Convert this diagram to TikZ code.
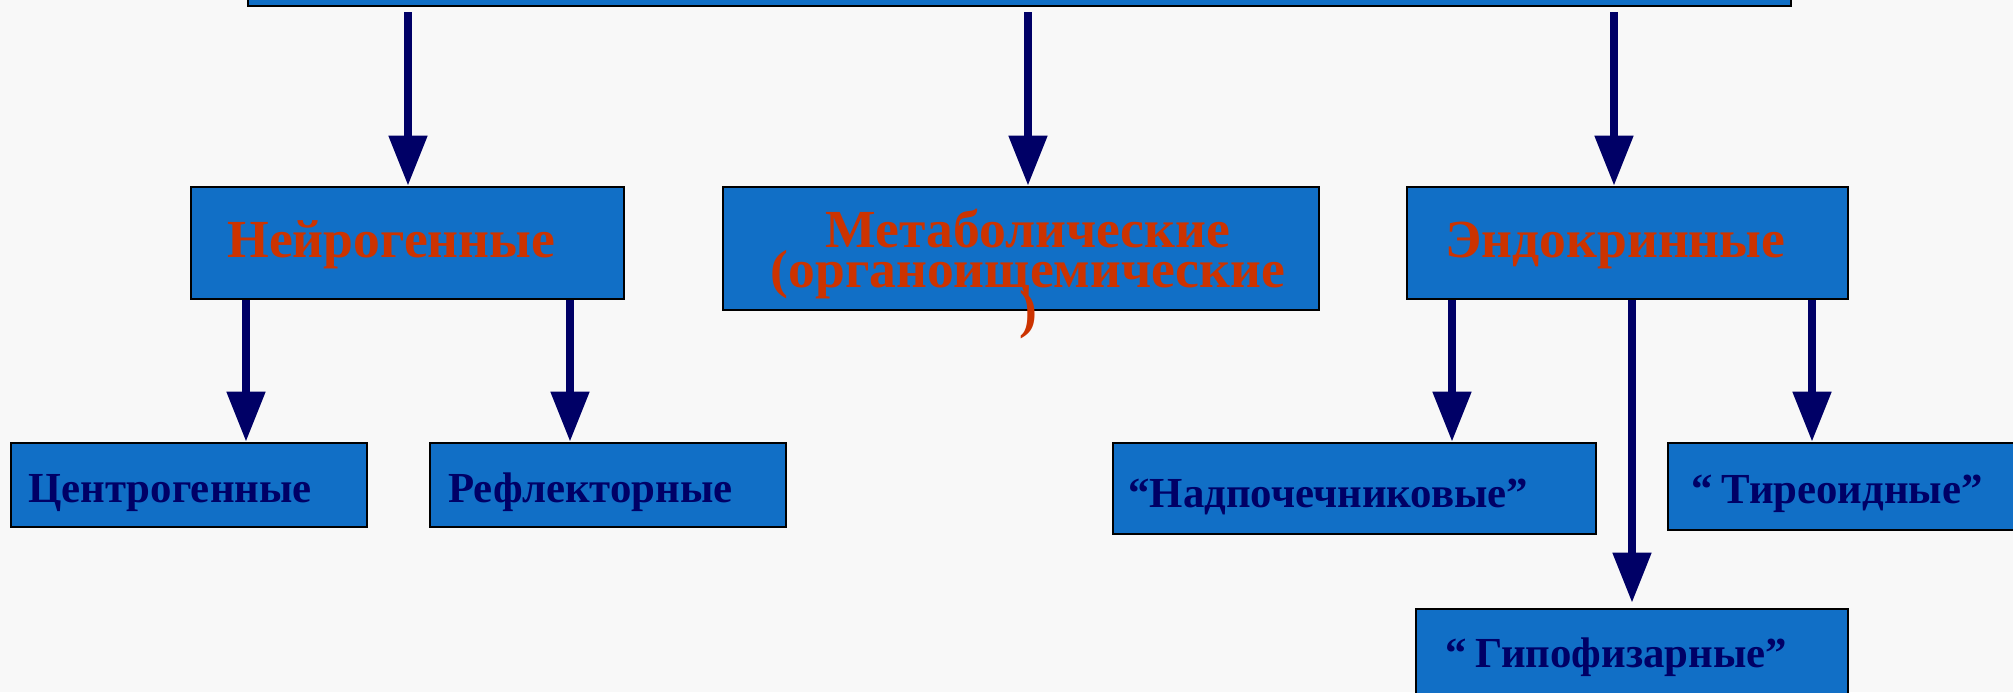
\documentclass[tikz,border=0pt]{standalone}
\usepackage{fontspec}
\setmainfont{Liberation Serif}
\usetikzlibrary{arrows.meta}
\definecolor{bg}{RGB}{248,248,248}
\definecolor{boxblue}{RGB}{17,111,198}
\definecolor{redtxt}{RGB}{204,51,0}
\definecolor{navy}{RGB}{0,0,102}
\tikzset{
  box/.style={draw=black, line width=1.3pt, fill=boxblue, inner sep=0pt},
  redlbl/.style={text=redtxt, font=\bfseries\fontsize{26.8}{20}\selectfont, inner sep=0pt},
  navylbl/.style={text=navy, font=\bfseries\fontsize{21.4}{26}\selectfont, inner sep=0pt},
  arr/.style={draw=navy, line width=4pt, -{Triangle[length=25pt,width=18.5pt]}}
}
\begin{document}
\begin{tikzpicture}[x=0.5pt,y=-0.5pt]
\useasboundingbox (0,0) rectangle (2013,692);
\clip (0,0) rectangle (2013,692);
\fill[bg] (0,0) rectangle (2013,692);

% boxes
\node[box, minimum width=771.5pt, minimum height=33pt] (top) at (1019.5,-27) {};
\node[box, minimum width=216.5pt, minimum height=56pt] (neuro) at (407.5,243) {};
\node[box, minimum width=298pt, minimum height=61.5pt] (metab) at (1021,248.5) {};
\node[box, minimum width=220.5pt, minimum height=56pt] (endo) at (1627.5,243) {};
\node[box, minimum width=178pt, minimum height=42pt] (centr) at (189,485) {};
\node[box, minimum width=178pt, minimum height=42pt] (refl) at (608,485) {};
\node[box, minimum width=241.5pt, minimum height=45.5pt] (nadp) at (1354.5,488.5) {};
\node[box, minimum width=196pt, minimum height=43.5pt] (tireo) at (1864,486.5) {};
\node[box, minimum width=216pt, minimum height=65.5pt] (gipof) at (1632,674.5) {};

% labels
\node[redlbl, anchor=base west] (neuroT) at (227,257) {Нейрогенные};
\node[redlbl, anchor=base west] (endoT) at (1445,257) {Эндокринные};
\node[redlbl, anchor=base] (metabT1) at (1028,247) {Метаболические};
\node[redlbl, anchor=base] (metabT2) at (1028,287) {(органоищемические};
\node[redlbl, anchor=base] (metabT3) at (1028,327) {)};
\node[navylbl, anchor=base west] (centrT) at (28,502) {Центрогенные};
\node[navylbl, anchor=base west] (reflT) at (448,502) {Рефлекторные};
\node[navylbl, anchor=base west] (nadpT) at (1128,507) {“Надпочечниковые”};
\node[navylbl, anchor=base west] (tireoT) at (1691,503) {“\kern-1pt{} Тиреоидные”};
\node[navylbl, anchor=base west] (gipofT) at (1445,667) {“\kern-1pt{} Гипофизарные”};

% arrow x positions
\coordinate (c1) at (408,0);
\coordinate (c2) at (1028,0);
\coordinate (c3) at (1614,0);
\coordinate (c4) at (246,0);
\coordinate (c5) at (570,0);
\coordinate (c6) at (1452,0);
\coordinate (c7) at (1632,0);
\coordinate (c8) at (1812,0);

% connectors
\draw[arr, shorten <=2.5pt] (top.south -| c1) -- (neuro.north -| c1);
\draw[arr, shorten <=2.5pt] (top.south -| c2) -- (metab.north -| c2);
\draw[arr, shorten <=2.5pt] (top.south -| c3) -- (endo.north -| c3);
\draw[arr] (neuro.south -| c4) -- (centr.north -| c4);
\draw[arr] (neuro.south -| c5) -- (refl.north -| c5);
\draw[arr] (endo.south -| c6) -- (nadp.north -| c6);
\draw[arr, shorten >=2.5pt] (endo.south -| c7) -- (gipof.north -| c7);
\draw[arr] (endo.south -| c8) -- (tireo.north -| c8);
\end{tikzpicture}
\end{document}
